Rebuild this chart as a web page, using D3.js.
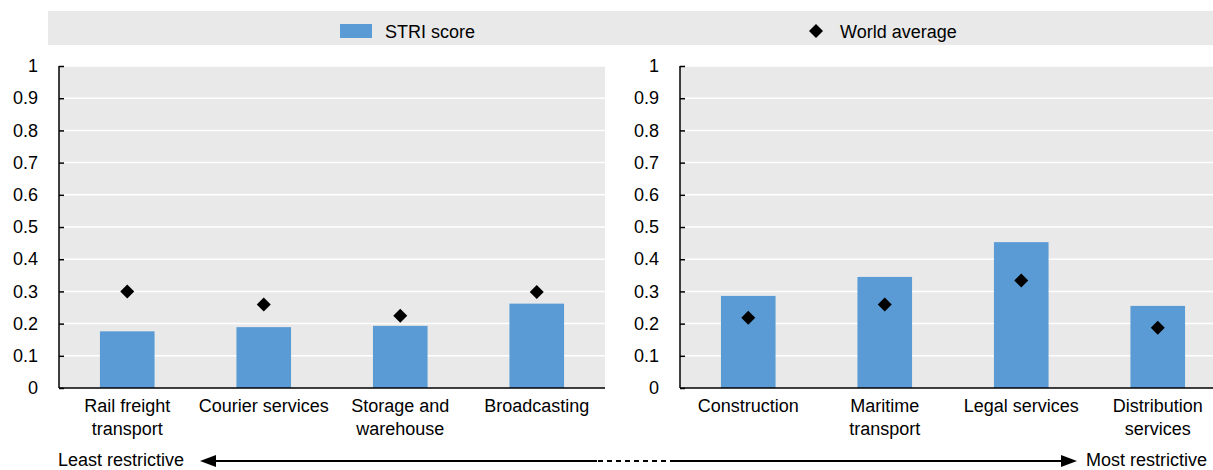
<!DOCTYPE html>
<html>
<head>
<meta charset="utf-8">
<script src="https://cdn.jsdelivr.net/npm/d3@7/dist/d3.min.js"></script>
<style>
  html, body { margin: 0; padding: 0; background: #fff; }
  svg { display: block; font-family: "Liberation Sans", Arial, sans-serif; }
</style>
</head>
<body>
<svg id="chart" width="1213" height="470"></svg>
<script>
// ---- data ----
const leftCategories = [["Rail freight", "transport"], ["Courier services"], ["Storage and", "warehouse"], ["Broadcasting"]];
const leftStri = [0.176, 0.189, 0.193, 0.262];
const leftWorld = [0.300, 0.259, 0.224, 0.298];

const rightCategories = [["Construction"], ["Maritime", "transport"], ["Legal services"], ["Distribution", "services"]];
const rightStri = [0.286, 0.345, 0.453, 0.255];
const rightWorld = [0.218, 0.259, 0.334, 0.187];

const yTicks = [0, 0.1, 0.2, 0.3, 0.4, 0.5, 0.6, 0.7, 0.8, 0.9, 1];
const legendLabels = ["STRI score", "World average"];
const arrowLabels = ["Least restrictive", "Most restrictive"];

// ---- styles ----
const barColor = "#5b9bd5";
const bgColor = "#e9e9e9";
const fontSize = 18;

const svg = d3.select("#chart");

// legend band
svg.append("rect").attr("x", 48).attr("y", 11).attr("width", 1213 - 48).attr("height", 34).attr("fill", bgColor);
svg.append("rect").attr("x", 340).attr("y", 24).attr("width", 32).attr("height", 14).attr("fill", barColor);
svg.append("text").attr("x", 385).attr("y", 38).attr("font-size", fontSize).attr("fill", "#000").text(legendLabels[0]);
const diamond = s => `M0,${-s}L${s},0L0,${s}L${-s},0Z`;
svg.append("path").attr("d", diamond(7)).attr("transform", "translate(816,31)").attr("fill", "#000");
svg.append("text").attr("x", 840).attr("y", 38).attr("font-size", fontSize).attr("fill", "#000").text(legendLabels[1]);

const yTop = 66, yBottom = 388;
const y = d3.scaleLinear().domain([0, 1]).range([yBottom, yTop]);

function panel(x0, x1, cats, stri, world) {
  const g = svg.append("g");
  const names = cats.map(c => c.join(" "));
  const x = d3.scaleBand().domain(names).range([x0, x1]).paddingInner(0.6).paddingOuter(0.3);

  g.append("rect").attr("x", x0).attr("y", yTop).attr("width", x1 - x0).attr("height", yBottom - yTop).attr("fill", bgColor);

  // gridlines
  g.selectAll("line.grid").data(yTicks.filter(t => t > 0)).join("line")
    .attr("class", "grid")
    .attr("x1", x0).attr("x2", x1)
    .attr("y1", d => y(d)).attr("y2", d => y(d))
    .attr("stroke", "#fff").attr("stroke-width", 1.5);

  // bars
  g.selectAll("rect.bar").data(stri).join("rect")
    .attr("class", "bar")
    .attr("x", (d, i) => x(names[i]))
    .attr("width", x.bandwidth())
    .attr("y", d => y(d))
    .attr("height", d => y(0) - y(d))
    .attr("fill", barColor);

  // diamonds
  g.selectAll("path.wa").data(world).join("path")
    .attr("class", "wa")
    .attr("d", diamond(7))
    .attr("transform", (d, i) => `translate(${x(names[i]) + x.bandwidth() / 2},${y(d)})`)
    .attr("fill", "#000");

  // y axis
  const ya = g.append("g").attr("transform", `translate(${x0},0)`)
    .call(d3.axisLeft(y).tickValues(yTicks).tickSize(-5).tickPadding(21)
      .tickFormat(d => d === 0 ? "0" : d === 1 ? "1" : d3.format(".1f")(d)));
  ya.select(".domain").attr("stroke", "#000").attr("stroke-width", 1.5).attr("d", `M0,${yTop}V${yBottom}`);
  ya.selectAll(".tick line").attr("stroke", "#000").attr("stroke-width", 1.5);
  ya.selectAll(".tick text").attr("font-size", fontSize).attr("font-family", "Liberation Sans, Arial, sans-serif").attr("fill", "#000");

  // x axis
  const xa = g.append("g").attr("transform", `translate(0,${yBottom})`)
    .call(d3.axisBottom(x).tickSize(0).tickFormat(""));
  xa.select(".domain").attr("stroke", "#000").attr("stroke-width", 1.5).attr("d", `M${x0},0H${x1}`);

  // category labels
  cats.forEach((lines, i) => {
    const t = g.append("text")
      .attr("x", x(names[i]) + x.bandwidth() / 2)
      .attr("y", 412)
      .attr("text-anchor", "middle")
      .attr("font-size", fontSize)
      .attr("fill", "#000");
    lines.forEach((l, j) => {
      t.append("tspan").attr("x", x(names[i]) + x.bandwidth() / 2).attr("dy", j === 0 ? 0 : 23).text(l);
    });
  });
}

panel(59, 605, leftCategories, leftStri, leftWorld);
panel(680, 1226, rightCategories, rightStri, rightWorld);

// bottom arrow
const ay = 461;
svg.append("text").attr("x", 58).attr("y", 466).attr("font-size", fontSize).attr("fill", "#000").text(arrowLabels[0]);
svg.append("text").attr("x", 1086).attr("y", 466).attr("font-size", fontSize).attr("fill", "#000").text(arrowLabels[1]);
svg.append("line").attr("x1", 212).attr("x2", 597).attr("y1", ay).attr("y2", ay).attr("stroke", "#000").attr("stroke-width", 2);
svg.append("line").attr("x1", 598).attr("x2", 670).attr("y1", ay).attr("y2", ay).attr("stroke", "#000").attr("stroke-width", 2).attr("stroke-dasharray", "5,4");
svg.append("line").attr("x1", 670).attr("x2", 1064).attr("y1", ay).attr("y2", ay).attr("stroke", "#000").attr("stroke-width", 2);
svg.append("path").attr("d", `M200,${ay}L216,${ay - 6}L216,${ay + 6}Z`).attr("fill", "#000");
svg.append("path").attr("d", `M1077,${ay}L1061,${ay - 6}L1061,${ay + 6}Z`).attr("fill", "#000");
</script>
</body>
</html>
